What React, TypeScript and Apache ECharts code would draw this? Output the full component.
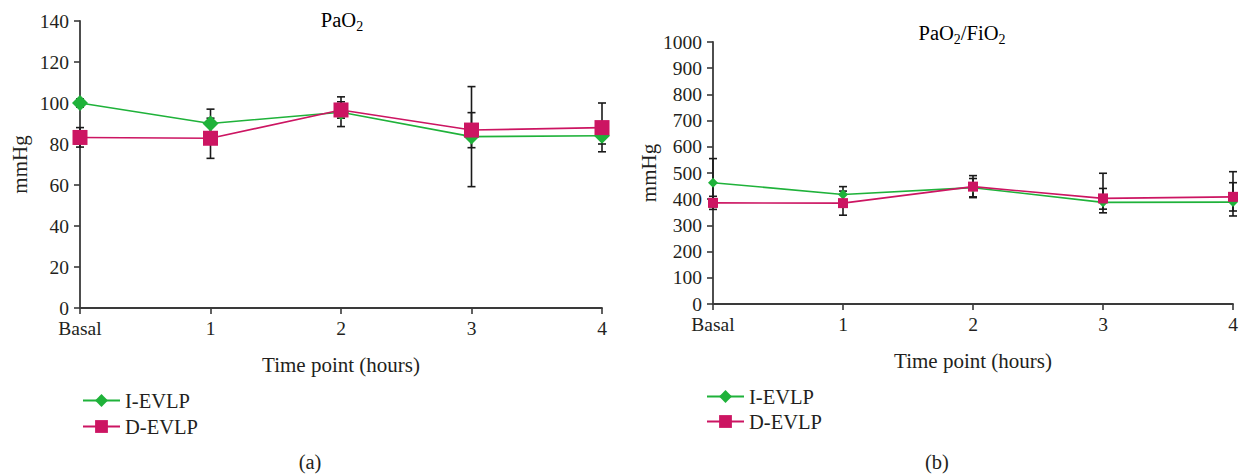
import React, { useEffect, useRef } from "react";
import * as echarts from "echarts";

const categories = ["Basal", "1", "2", "3", "4"];

// Panel (a): PaO2 (mmHg)
const paoI = [100, 90, 95.5, 83.6, 84];
const paoD = [83.2, 82.8, 96.6, 86.8, 88];
const paoILo = [98, 83, 88.5, 59.2, 80];
const paoIHi = [102, 97, 103, 108, 88];
const paoDLo = [78.5, 73, 92.6, 78.2, 76.2];
const paoDHi = [88, 92.6, 100.6, 95.3, 100];

// Panel (b): PaO2/FiO2 (mmHg)
const ratioI = [463, 418, 444, 388, 389];
const ratioD = [386, 385, 448, 403, 409];
const ratioILo = [371, 388, 409, 348, 336];
const ratioIHi = [555, 448, 479, 441, 463];
const ratioDLo = [361, 339, 406, 362, 355];
const ratioDHi = [411, 431, 490, 499, 505];

const GREEN = "#1fb23a";
const PINK = "#cc1562";
const AXIS = "#3a3a3a";
const TEXT = "#231f20";
const FONT = "'Liberation Serif', 'DejaVu Serif', serif";

function errData(lo: number[], hi: number[]) {
  return lo.map((l, i) => [i, l, hi[i]]);
}

function errorSeries(name: string, lo: number[], hi: number[], axisIdx: number) {
  return {
    type: "custom",
    name,
    xAxisIndex: axisIdx,
    yAxisIndex: axisIdx,
    z: 1,
    silent: true,
    encode: { x: 0, y: [1, 2] },
    data: errData(lo, hi),
    renderItem: (params: any, api: any) => {
      const x = api.value(0);
      const top = api.coord([x, api.value(2)]);
      const bot = api.coord([x, api.value(1)]);
      const cap = 4;
      const style = { stroke: "#1a1a1a", lineWidth: 1.6 };
      return {
        type: "group",
        children: [
          { type: "line", shape: { x1: top[0], y1: top[1], x2: bot[0], y2: bot[1] }, style },
          { type: "line", shape: { x1: top[0] - cap, y1: top[1], x2: top[0] + cap, y2: top[1] }, style },
          { type: "line", shape: { x1: bot[0] - cap, y1: bot[1], x2: bot[0] + cap, y2: bot[1] }, style },
        ],
      };
    },
  };
}

function lineSeries(name: string, data: number[], color: string, symbol: string, size: number, axisIdx: number) {
  return {
    type: "line",
    name,
    xAxisIndex: axisIdx,
    yAxisIndex: axisIdx,
    data,
    symbol,
    symbolSize: size,
    showSymbol: true,
    z: 3,
    lineStyle: { color, width: 1.6 },
    itemStyle: { color, borderWidth: 0 },
  };
}

function xAxis(gridIndex: number, nameGap: number) {
  return {
    type: "category",
    gridIndex,
    data: categories,
    boundaryGap: false,
    name: "Time point (hours)",
    nameLocation: "middle",
    nameGap,
    nameTextStyle: { fontFamily: FONT, fontSize: 21, color: TEXT },
    axisLine: { lineStyle: { color: AXIS, width: 1.8 } },
    axisTick: { show: true, length: 6, lineStyle: { color: AXIS, width: 1.6 } },
    axisLabel: { fontFamily: FONT, fontSize: 19.5, color: TEXT, margin: 10, interval: 0 },
    splitLine: { show: false },
  };
}

function yAxis(gridIndex: number, max: number, interval: number, nameGap: number) {
  return {
    type: "value",
    gridIndex,
    min: 0,
    max,
    interval,
    name: "mmHg",
    nameLocation: "middle",
    nameGap,
    nameRotate: 90,
    nameTextStyle: { fontFamily: FONT, fontSize: 21, color: TEXT },
    axisLine: { show: true, lineStyle: { color: AXIS, width: 1.8 } },
    axisTick: { show: true, length: 6, lineStyle: { color: AXIS, width: 1.6 } },
    axisLabel: {
      fontFamily: FONT,
      fontSize: 19.5,
      color: TEXT,
      margin: 11,
      formatter: (v: number) => String(v),
    },
    splitLine: { show: false },
  };
}

const richTitle = {
  n: { fontFamily: FONT, fontSize: 20.5, color: TEXT, lineHeight: 26 },
  s: { fontFamily: FONT, fontSize: 14, color: TEXT, lineHeight: 14, verticalAlign: "bottom" },
};

function legend(left: number, top: number, gap: number) {
  return {
    left,
    top,
    padding: 0,
    orient: "vertical",
    itemWidth: 37,
    itemHeight: 16,
    itemGap: gap,
    data: ["I-EVLP", "D-EVLP"],
    textStyle: { fontFamily: FONT, fontSize: 20.5, color: TEXT },
    selectedMode: false,
  };
}

export default function App() {
  const ref = useRef<HTMLDivElement>(null);

  useEffect(() => {
    document.body.style.margin = "0";
    if (!ref.current) return;
    const chart = echarts.init(ref.current, null, { renderer: "svg" });
    chart.setOption({
      animation: false,
      backgroundColor: "#ffffff",
      grid: [
        { left: 80, top: 21, width: 522, height: 287 },
        { left: 713, top: 42, width: 520, height: 262 },
      ],
      xAxis: [xAxis(0, 46), xAxis(1, 46)],
      yAxis: [yAxis(0, 140, 20, 50), yAxis(1, 1000, 100, 54)],
      legend: [legend(82, 390, 5), legend(706, 386, 4)],
      graphic: [
        {
          type: "text",
          x: 342,
          y: 20,
          style: { text: "{n|PaO}{s|2}", rich: richTitle, align: "center", verticalAlign: "middle" },
        },
        {
          type: "text",
          x: 962,
          y: 33,
          style: { text: "{n|PaO}{s|2}{n|/FiO}{s|2}", rich: richTitle, align: "center", verticalAlign: "middle" },
        },
        {
          type: "text",
          x: 310,
          y: 462,
          style: { text: "(a)", fontFamily: FONT, fontSize: 20.5, fill: TEXT, align: "center", verticalAlign: "middle" },
        },
        {
          type: "text",
          x: 937,
          y: 462,
          style: { text: "(b)", fontFamily: FONT, fontSize: 20.5, fill: TEXT, align: "center", verticalAlign: "middle" },
        },
      ],
      series: [
        errorSeries("errI-a", paoILo, paoIHi, 0),
        errorSeries("errD-a", paoDLo, paoDHi, 0),
        lineSeries("I-EVLP", paoI, GREEN, "diamond", 16, 0),
        lineSeries("D-EVLP", paoD, PINK, "rect", 15, 0),
        errorSeries("errI-b", ratioILo, ratioIHi, 1),
        errorSeries("errD-b", ratioDLo, ratioDHi, 1),
        lineSeries("I-EVLP", ratioI, GREEN, "diamond", 10, 1),
        lineSeries("D-EVLP", ratioD, PINK, "rect", 10, 1),
      ],
    });
    return () => chart.dispose();
  }, []);

  return <div ref={ref} style={{ width: 1241, height: 474 }} />;
}
